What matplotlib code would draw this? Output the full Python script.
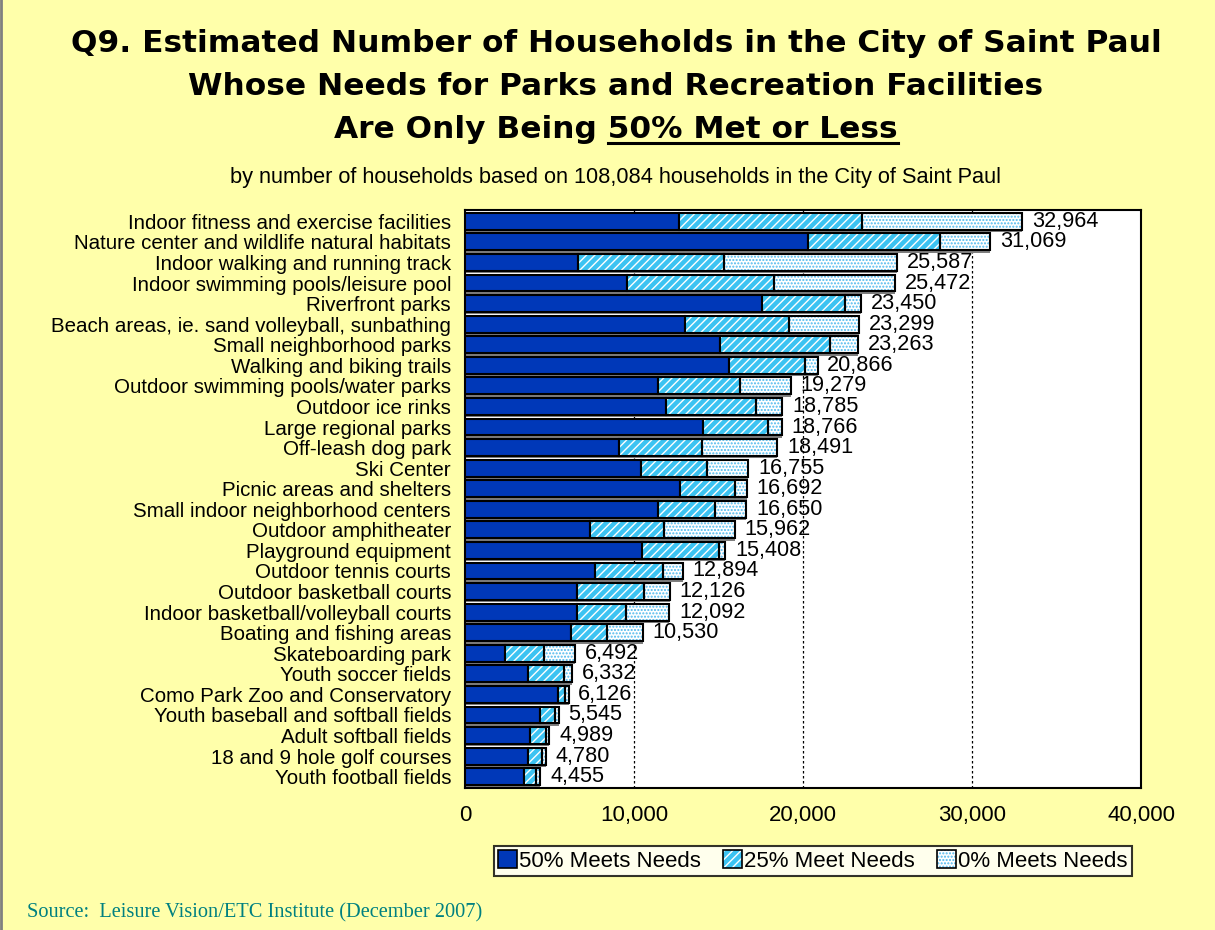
import numpy as np
import matplotlib
matplotlib.use('Agg')
import matplotlib.pyplot as plt
from matplotlib.patches import Patch
from matplotlib.lines import Line2D

plt.rcParams['font.family'] = ['Liberation Sans', 'DejaVu Sans']
plt.rcParams['hatch.linewidth'] = 1.0

categories = [
    'Indoor fitness and exercise facilities',
    'Nature center and wildlife natural habitats',
    'Indoor walking and running track',
    'Indoor swimming pools/leisure pool',
    'Riverfront parks',
    'Beach areas, ie. sand volleyball, sunbathing',
    'Small neighborhood parks',
    'Walking and biking trails',
    'Outdoor swimming pools/water parks',
    'Outdoor ice rinks',
    'Large regional parks',
    'Off-leash dog park',
    'Ski Center',
    'Picnic areas and shelters',
    'Small indoor neighborhood centers',
    'Outdoor amphitheater',
    'Playground equipment',
    'Outdoor tennis courts',
    'Outdoor basketball courts',
    'Indoor basketball/volleyball courts',
    'Boating and fishing areas',
    'Skateboarding park',
    'Youth soccer fields',
    'Como Park Zoo and Conservatory',
    'Youth baseball and softball fields',
    'Adult softball fields',
    '18 and 9 hole golf courses',
    'Youth football fields',
]
met50 = [12650, 20300, 6700, 9600, 17550, 13000, 15100, 15600, 11400, 11900,
         14100, 9100, 10400, 12750, 11400, 7400, 10500, 7700, 6600, 6600,
         6300, 2350, 3700, 5500, 4450, 3850, 3700, 3500]
met25 = [10850, 7800, 8600, 8700, 4950, 6200, 6500, 4500, 4900, 5300,
         3800, 4900, 3900, 3250, 3400, 4400, 4500, 4000, 4000, 2900,
         2100, 2350, 2150, 400, 850, 950, 850, 700]
met0 = [9464, 2969, 10287, 7172, 950, 4099, 1663, 766, 2979, 1585,
        866, 4491, 2455, 692, 1850, 4162, 408, 1194, 1526, 2592,
        2130, 1792, 482, 226, 245, 189, 230, 255]
totals = [32964, 31069, 25587, 25472, 23450, 23299, 23263, 20866, 19279, 18785,
          18766, 18491, 16755, 16692, 16650, 15962, 15408, 12894, 12126, 12092,
          10530, 6492, 6332, 6126, 5545, 4989, 4780, 4455]
legend_labels = ['50% Meets Needs', '25% Meet Needs', '0% Meets Needs']
xticks = [0, 10000, 20000, 30000, 40000]

bg = '#FFFFAA'
dark = '#0038B8'
mid = '#3CC3F2'
dots = '#4DB8EE'

fig = plt.figure(figsize=(12.15, 9.3), dpi=100, facecolor=bg)
ax = fig.add_axes([465/1215, 1-788/930, 676/1215, 578/930])
ax.set_facecolor('white')

y = np.arange(len(categories))
h = 0.82
m50 = np.array(met50)
m25 = np.array(met25)
m0 = np.array(met0)

# drop shadow under each bar
ax.barh(y + 0.12, m50 + m25 + m0, height=h, color='#7F7F7F', zorder=2)

ax.barh(y, m50, height=h, color=dark, edgecolor='black', linewidth=1.5, zorder=3)
ax.barh(y, m25, left=m50, height=h, color=mid, edgecolor='white',
        hatch='////', linewidth=0, zorder=3)
ax.barh(y, m25, left=m50, height=h, fill=False, edgecolor='black',
        linewidth=1.5, zorder=4)
ax.barh(y, m0, left=m50 + m25, height=h, color='white', edgecolor=dots,
        hatch='.....', linewidth=0, zorder=3)
last = ax.barh(y, m0, left=m50 + m25, height=h, fill=False, edgecolor='black',
               linewidth=1.5, zorder=4)
ax.bar_label(last, labels=[f'{v:,}' for v in totals], padding=7,
             fontsize=15.6, zorder=5)

ax.set_xlim(0, 40000)
ax.set_ylim(len(categories) - 0.45, -0.55)
ax.set_xticks(xticks)
ax.set_xticklabels([f'{v:,}' for v in xticks], fontsize=16)
ax.set_yticks(y)
ax.set_yticklabels(categories, fontsize=14.8)
ax.tick_params(axis='x', length=0, pad=12)
ax.tick_params(axis='y', length=0, pad=10)
for v in xticks[1:-1]:
    ax.axvline(v, color='black', linestyle=(0, (2, 2)), linewidth=0.9, zorder=1)
for s in ax.spines.values():
    s.set_linewidth(1.5)

# titles
tkw = dict(ha='center', va='baseline', fontsize=22.5, fontweight='bold',
           family=['DejaVu Sans'])
fig.text(616/1215, 1-52/930, 'Q9. Estimated Number of Households in the City of Saint Paul', **tkw)
fig.text(616/1215, 1-95/930, 'Whose Needs for Parks and Recreation Facilities', **tkw)
t3 = fig.text(616/1215, 1-138/930, 'Are Only Being 50% Met or Less', **tkw)
fig.text(616/1215, 1-177/930,
         'by number of households based on 108,084 households in the City of Saint Paul',
         ha='center', va='center', fontsize=15.7)

fig.canvas.draw()
r = fig.canvas.get_renderer()
bb = t3.get_window_extent(r)
tmp = fig.text(0, 0, '50% Met or Less', **tkw)
w2 = tmp.get_window_extent(r).width
tmp.remove()
W, H = fig.bbox.width, fig.bbox.height
uy = (1-138/930) - 5/H
fig.add_artist(Line2D([(bb.x1 - w2)/W, bb.x1/W], [uy, uy], color='black',
                      linewidth=2.2, transform=fig.transFigure))

# legend
handles = [
    (Patch(facecolor=dark, edgecolor='black', linewidth=1.2),),
    (Patch(facecolor=mid, edgecolor='white', hatch='////', linewidth=0),
     Patch(fill=False, edgecolor='black', linewidth=1.2)),
    (Patch(facecolor='white', edgecolor=dots, hatch='.....', linewidth=0),
     Patch(fill=False, edgecolor='black', linewidth=1.2)),
]
leg = fig.legend(handles, legend_labels, loc='center',
                 bbox_to_anchor=(813/1215, 1-861/930), ncol=3, fontsize=16,
                 frameon=True, fancybox=False, edgecolor='black',
                 handlelength=0.85, handleheight=0.85, handletextpad=0.1,
                 columnspacing=1.0, borderpad=0.2, borderaxespad=0)
leg.get_frame().set_linewidth(1.5)

fig.text(27/1215, 1-913/930, 'Source:  Leisure Vision/ETC Institute (December 2007)',
         ha='left', va='center', fontsize=14.7, color='#008080',
         family=['Liberation Serif', 'DejaVu Serif'])
fig.add_artist(Line2D([0.001, 0.001], [0, 1], color='#808080', linewidth=2,
                      transform=fig.transFigure))

fig.savefig('out.png', dpi=100, facecolor=bg)
